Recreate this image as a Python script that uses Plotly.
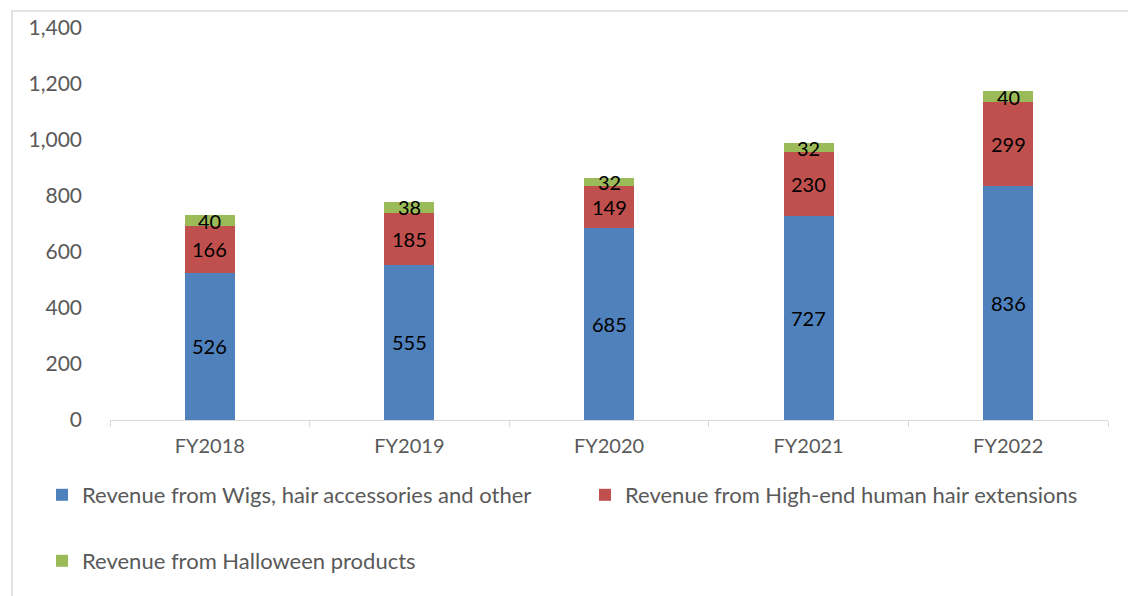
import plotly.graph_objects as go

categories = ["FY2018", "FY2019", "FY2020", "FY2021", "FY2022"]
wigs = [526, 555, 685, 727, 836]
extensions = [166, 185, 149, 230, 299]
halloween = [40, 38, 32, 32, 40]
series_names = [
    "Revenue from Wigs, hair accessories and other",
    "Revenue from High-end human hair extensions",
    "Revenue from Halloween products",
]
colors = ["#4F81BD", "#C0504D", "#9BBB59"]
y_ticks = [0, 200, 400, 600, 800, 1000, 1200, 1400]

FONT = "Lato"
W, H = 1128, 596
ML, MR, MT, MB = 110, 20, 28, 176
PW, PH = W - ML - MR, H - MT - MB

fig = go.Figure()
series = [wigs, extensions, halloween]
legends = ["legend", "legend", "legend2"]
for name, vals, col, lg in zip(series_names, series, colors, legends):
    fig.add_trace(go.Bar(
        x=categories, y=vals, name=name, marker=dict(color=col, line=dict(width=0)),
        width=0.25, legend=lg,
    ))

annotations = []
for i, cat in enumerate(categories):
    base = 0
    for vals in series:
        v = vals[i]
        annotations.append(dict(
            x=cat, y=base + v / 2, text=str(v), showarrow=False,
            font=dict(family=FONT, size=20, color="#000000"),
            xref="x", yref="y",
        ))
        base += v

def px2x(px):
    return (px - ML) / PW

def px2y(py):
    return (H - MB - py) / PH

fig.update_layout(
    width=W, height=H,
    barmode="stack",
    margin=dict(l=ML, r=MR, t=MT, b=MB),
    paper_bgcolor="white", plot_bgcolor="white",
    font=dict(family=FONT, size=20, color="#595959"),
    annotations=annotations,
    xaxis=dict(
        showline=True, linecolor="#D9D9D9", linewidth=1,
        ticks="outside", tickson="boundaries", ticklen=6, tickcolor="#D9D9D9",
        tickfont=dict(family=FONT, size=20, color="#595959"),
        showgrid=False, ticklabelstandoff=8,
    ),
    yaxis=dict(
        range=[0, 1400], tickvals=y_ticks, tickformat=",d",
        showgrid=False, showline=False, zeroline=False,
        tickfont=dict(family=FONT, size=21, color="#595959"),
        ticklabelstandoff=27,
    ),
    showlegend=True,
    legend=dict(
        orientation="h", x=px2x(50), y=px2y(474), xanchor="left", yanchor="top",
        entrywidth=498, entrywidthmode="pixels",
        font=dict(family=FONT, size=22, color="#595959"),
        bgcolor="rgba(0,0,0,0)", traceorder="normal",
    ),
    legend2=dict(
        orientation="h", x=px2x(42), y=px2y(540), xanchor="left", yanchor="top",
        font=dict(family=FONT, size=22, color="#595959"),
        bgcolor="rgba(0,0,0,0)",
    ),
    shapes=[dict(
        type="rect", xref="paper", yref="paper",
        x0=px2x(12), x1=px2x(W + 10), y0=px2y(H + 10), y1=px2y(11),
        line=dict(color="#D9D9D9", width=1.5), fillcolor="rgba(0,0,0,0)", layer="below",
    )],
)

fig.write_html("out.html")
